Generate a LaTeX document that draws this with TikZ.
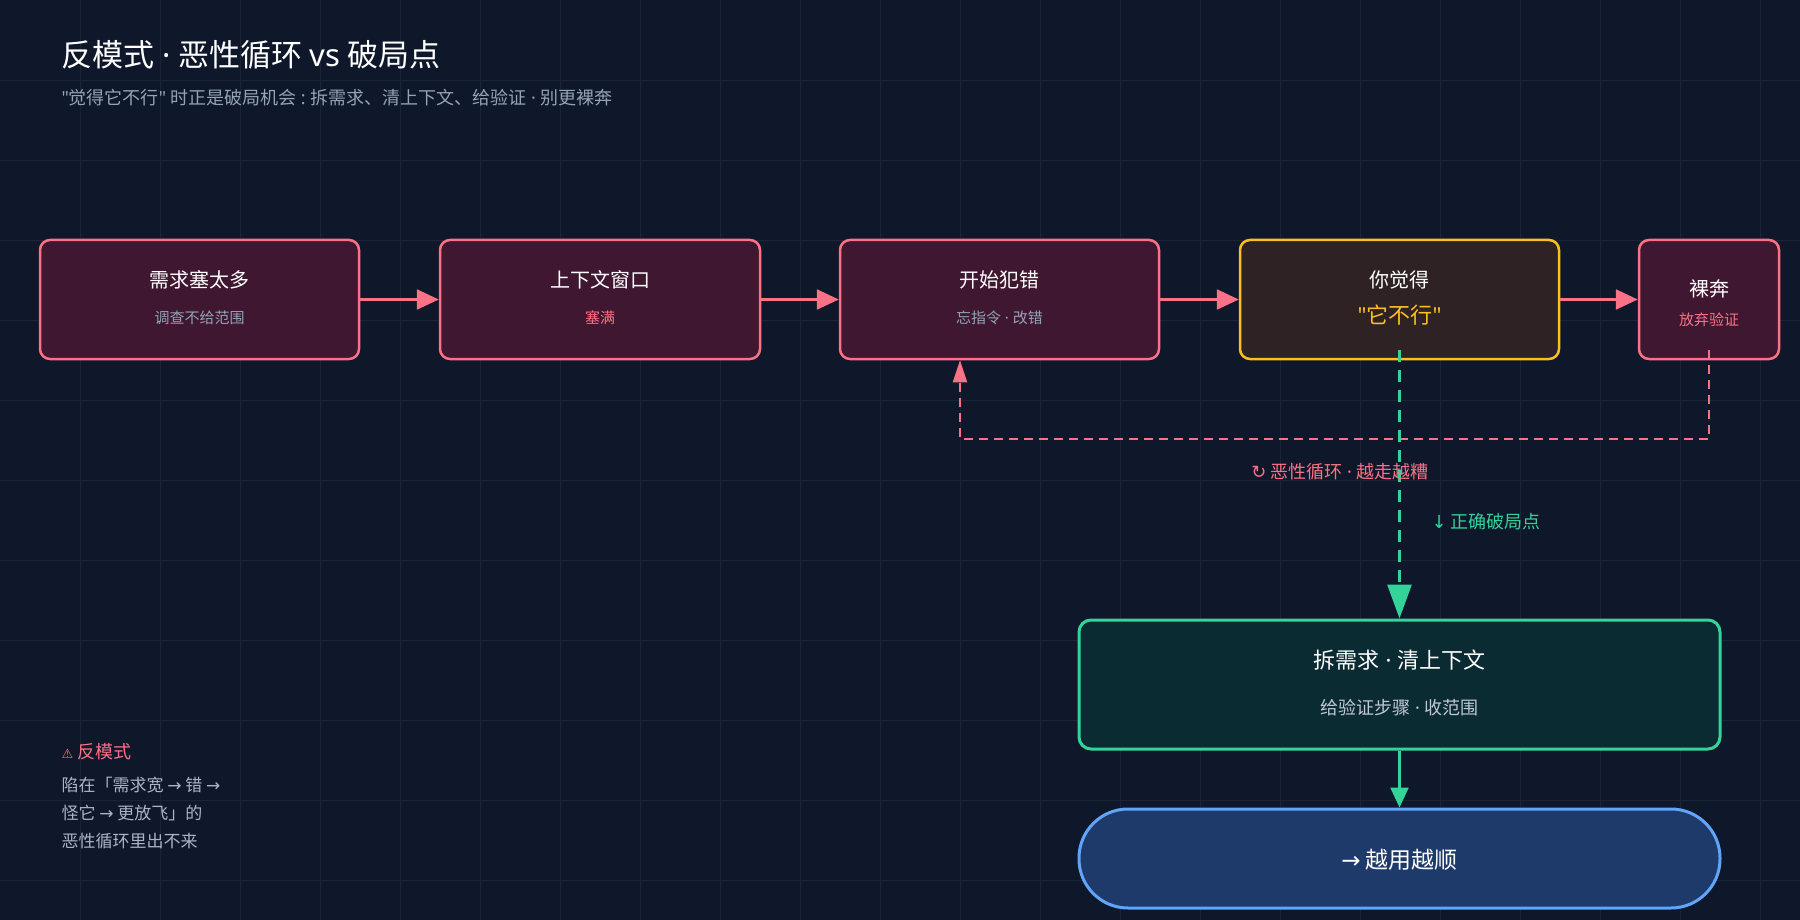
\documentclass[tikz,border=0pt]{standalone}
\usepackage{fontspec}
\setmainfont{Noto Sans CJK SC}
\newfontfamily\latf{Noto Sans}
\newfontfamily\symf{DejaVu Sans}
\newcommand{\dt}{{\latf\ ·\ }}
\newcommand{\qq}{{\latf "}}
\newcommand{\ra}{{\symf →}}
\usetikzlibrary{arrows.meta}
\definecolor{bg}{HTML}{0F172A}
\definecolor{grid}{HTML}{1A2436}
\definecolor{pink}{HTML}{FB7185}
\definecolor{pinkfill}{HTML}{3F1730}
\definecolor{yel}{HTML}{FBBF24}
\definecolor{yelfill}{HTML}{2F2224}
\definecolor{grn}{HTML}{34D399}
\definecolor{grnfill}{HTML}{0B2B33}
\definecolor{blu}{HTML}{60A5FA}
\definecolor{blufill}{HTML}{1E3A6A}
\definecolor{sub}{HTML}{94A3B8}
\tikzset{
 box/.style={draw=pink,fill=pinkfill,line width=2.5pt,rounded corners=10pt,inner sep=0pt},
 ttl/.style={text=white,font=\fontsize{20}{24}\selectfont},
 sml/.style={font=\fontsize{15}{18}\selectfont},
 arr/.style={line width=2.5pt,-{Triangle[length=22pt,width=20pt]}},
}
\begin{document}
\begin{tikzpicture}[x=1pt,y=-1pt]
\fill[bg] (0,0) rectangle (1800,920);
\useasboundingbox (0,0) rectangle (1800,920);
\foreach \i in {80,160,...,1760} \draw[grid,line width=0.8pt] (\i,0) -- (\i,920);
\foreach \j in {80,160,...,880} \draw[grid,line width=0.8pt] (0,\j) -- (1800,\j);
\node[anchor=west,text=white,font=\fontsize{31}{36}\selectfont] (title) at (58,55) {反模式\dt 恶性循环 {\latf vs} 破局点};
\node[anchor=west,text=sub,font=\fontsize{18}{20}\selectfont] (subt) at (58,98) {\qq 觉得它不行\qq{} 时正是破局机会{\latf\ :\ }拆需求、清上下文、给验证\dt 别更裸奔};
\node[box,minimum width=319pt,minimum height=119pt] (b1) at (199.5,299.5) {};
\node[box,minimum width=320pt,minimum height=119pt] (b2) at (600,299.5) {};
\node[box,minimum width=319pt,minimum height=119pt] (b3) at (999.5,299.5) {};
\node[box,draw=yel,fill=yelfill,minimum width=319pt,minimum height=119pt] (b4) at (1399.5,299.5) {};
\node[box,minimum width=140pt,minimum height=119pt] (b5) at (1709,299.5) {};
\node[ttl] (t1) at (199.5,280) {需求塞太多};
\node[sml,text=sub] (s1) at (199.5,318) {调查不给范围};
\node[ttl] (t2) at (600,280) {上下文窗口};
\node[sml,text=pink] (s2) at (600,318) {塞满};
\node[ttl] (t3) at (999.5,280) {开始犯错};
\node[sml,text=sub] (s3) at (999.5,318) {忘指令\dt 改错};
\node[ttl] (t4) at (1399.5,280) {你觉得};
\node[text=yel,font=\fontsize{22}{26}\selectfont] (s4) at (1399.5,315) {\qq 它不行\qq};
\node[ttl] (t5) at (1709,289) {裸奔};
\node[sml,text=pink] (s5) at (1709,320) {放弃验证};
\draw[pink,arr] (b1) -- (b2);
\draw[pink,arr] (b2) -- (b3);
\draw[pink,arr] (b3) -- (b4);
\draw[pink,arr] (b4) -- (b5);
\node[draw=grn,fill=grnfill,line width=3pt,rounded corners=12pt,minimum width=641pt,minimum height=129pt] (g) at (1399.5,684.5) {};
\node[ttl,font=\fontsize{22}{26}\selectfont] (gt) at (1399.5,660) {拆需求\dt 清上下文};
\node[text=sub!60!white,font=\fontsize{18}{22}\selectfont] (gs) at (1399.5,708) {给验证步骤\dt 收范围};
\node[draw=blu,fill=blufill,line width=3pt,rounded corners=49pt,minimum width=641pt,minimum height=99pt] (bl) at (1399.5,858.5) {};
\node[ttl,font=\fontsize{23}{28}\selectfont] (blt) at (1399.5,860) {\ra{} 越用越顺};
\coordinate (c5) at (1709,350);
\coordinate (c3) at (960,439);
\draw[pink,line width=2.2pt,dash pattern=on 9pt off 6pt,-{Triangle[length=22pt,width=14pt]}] (c5) |- (c3) -- (c3 |- b3.south);
\coordinate (c4) at (1399.5,350);
\draw[grn,line width=3pt,dash pattern=on 12pt off 8pt,-{Triangle[length=34pt,width=24pt]}] (c4) -- (g.north);
\draw[grn,line width=2.5pt,-{Triangle[length=20pt,width=18pt]}] (g.south) -- (bl.north);
\node[text=pink,font=\fontsize{18}{22}\selectfont] (loop) at (1340,472) {{\symf ↻} 恶性循环\dt 越走越糟};
\node[anchor=west,text=grn,font=\fontsize{18}{22}\selectfont] (gl) at (1428,522) {{\symf ↓} 正确破局点};
\node[anchor=west,text=pink,font=\fontsize{18}{22}\selectfont] (am) at (58,752) {{\symf\fontsize{13}{16}\selectfont ⚠} 反模式};
\node[anchor=north west,text=sub!80!white,font=\fontsize{17}{28}\selectfont,align=left] (at) at (58,774) {陷在「需求宽\ \ra\ 错\ \ra\\怪它\ \ra\ 更放飞」的\\恶性循环里出不来};
\end{tikzpicture}
\end{document}
